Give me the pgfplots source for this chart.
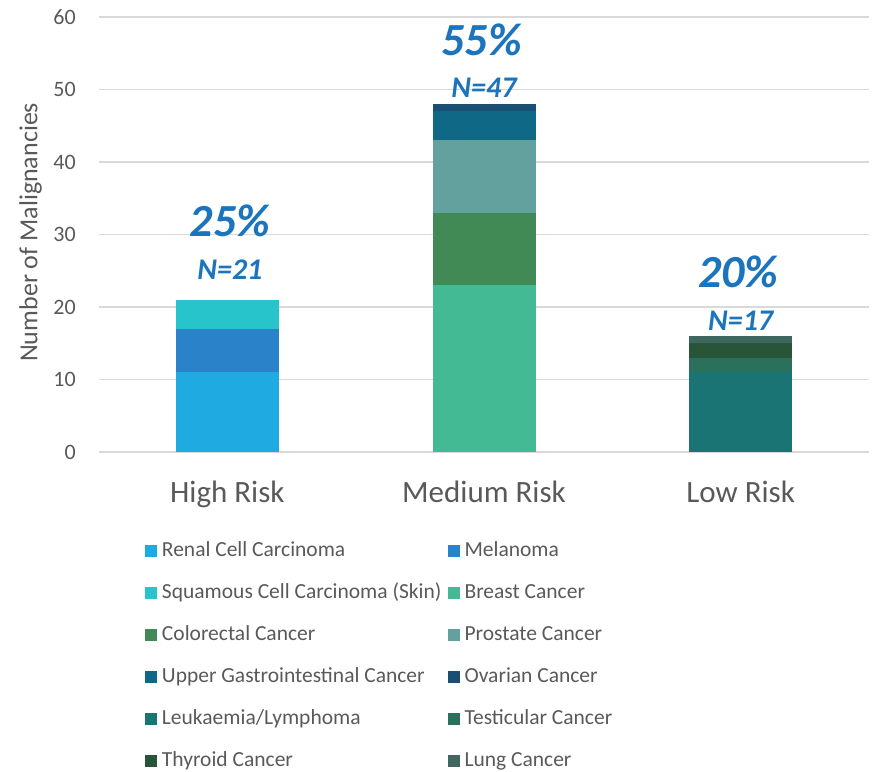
\documentclass[border=0pt]{standalone}
\usepackage{fontspec}
\setmainfont{Carlito}
\usepackage{pgfplots}
\pgfplotsset{compat=1.18}

% series colours
\definecolor{renal}{HTML}{1FAAE1}
\definecolor{melanoma}{HTML}{2A82C9}
\definecolor{scc}{HTML}{28C4CB}
\definecolor{breast}{HTML}{44BA94}
\definecolor{colorectal}{HTML}{418A55}
\definecolor{prostate}{HTML}{63A19F}
\definecolor{ugi}{HTML}{106887}
\definecolor{ovarian}{HTML}{1A4F73}
\definecolor{leuk}{HTML}{1A7474}
\definecolor{testicular}{HTML}{2A705A}
\definecolor{thyroid}{HTML}{285537}
\definecolor{lung}{HTML}{3F6661}
\definecolor{textgray}{HTML}{595959}
\definecolor{gridgray}{HTML}{D9D9D9}
\definecolor{labelblue}{HTML}{1C75BC}

\begin{document}
\begin{tikzpicture}[x=1pt,y=1pt]
\begin{axis}[
  scale only axis,
  width=770pt, height=435pt,
  ybar stacked,
  bar width=103pt,
  xmin=-0.5, xmax=2.5,
  ymin=0, ymax=60,
  xtick={0,1,2},
  xticklabels={High Risk, Medium Risk, Low Risk},
  ytick={0,10,...,60},
  axis line style={draw=none},
  major tick length=0pt,
  ymajorgrids,
  grid style={color=gridgray, line width=1.3pt},
  /pgf/number format/assume math mode=true,
  xticklabel style={anchor=base, yshift=-50pt, inner sep=0pt,
    font=\fontsize{31}{31}\selectfont, text=textgray},
  yticklabel style={anchor=east, inner sep=0pt, xshift=-23pt,
    font=\fontsize{22}{22}\selectfont, text=textgray},
  ylabel={Number of Malignancies},
  ylabel style={at={(axis description cs:-0.074,0.505)}, anchor=south,
    rotate=0, inner sep=0pt, font=\fontsize{26}{26}\selectfont, text=textgray},
  legend columns=2,
  legend cell align=left,
  legend style={
    draw=none, fill=none,
    at={(0.0597,-0.2046)}, anchor=north west,
    font=\fontsize{21.5}{21.5}\selectfont,
    text=textgray,
    inner sep=0pt, outer sep=0pt,
    row sep=22pt,
    /tikz/every odd column/.append style={column sep=5pt},
    /tikz/every even column/.append style={column sep=6pt},
    nodes={inner sep=0pt, text height=15pt, text depth=5pt},
  },
  legend image code/.code={\fill[#1,draw=none] (0pt,-6pt) rectangle (12pt,6pt);},
  every axis plot/.append style={draw=none},
]
% High Risk
\addplot[fill=renal]      coordinates {(0,11) (1,0)  (2,0)};
\addplot[fill=melanoma]   coordinates {(0,6)  (1,0)  (2,0)};
\addplot[fill=scc]        coordinates {(0,4)  (1,0)  (2,0)};
% Medium Risk
\addplot[fill=breast]     coordinates {(0,0)  (1,23) (2,0)};
\addplot[fill=colorectal] coordinates {(0,0)  (1,10) (2,0)};
\addplot[fill=prostate]   coordinates {(0,0)  (1,10) (2,0)};
\addplot[fill=ugi]        coordinates {(0,0)  (1,4)  (2,0)};
\addplot[fill=ovarian]    coordinates {(0,0)  (1,1)  (2,0)};
% Low Risk
\addplot[fill=leuk]       coordinates {(0,0)  (1,0)  (2,11)};
\addplot[fill=testicular] coordinates {(0,0)  (1,0)  (2,2)};
\addplot[fill=thyroid]    coordinates {(0,0)  (1,0)  (2,2)};
\addplot[fill=lung]       coordinates {(0,0)  (1,0)  (2,1)};
\legend{Renal Cell Carcinoma, Melanoma, Squamous Cell Carcinoma (Skin),
  Breast Cancer, Colorectal Cancer, Prostate Cancer,
  Upper Gastrointestinal Cancer, Ovarian Cancer, Leukaemia/Lymphoma,
  Testicular Cancer, Thyroid Cancer, Lung Cancer}

% group shares and counts
\tikzset{pct/.style={text=labelblue, inner sep=0pt,
    font=\fontsize{46}{46}\selectfont\bfseries\itshape},
  cnt/.style={text=labelblue, inner sep=0pt,
    font=\fontsize{30}{30}\selectfont\bfseries\itshape}}
\node[pct] at (axis cs:0.01,31.9) {25\%};
\node[cnt] at (axis cs:0.01,25.2) {N=21};
\node[pct] at (axis cs:0.99,56.8) {55\%};
\node[cnt] at (axis cs:1,50.3) {N=47};
\node[pct] at (axis cs:1.99,24.8) {20\%};
\node[cnt] at (axis cs:2,18.1) {N=17};
\end{axis}
\pgfresetboundingbox
\path (-99,-319) rectangle (773,452);
\end{tikzpicture}
\end{document}
